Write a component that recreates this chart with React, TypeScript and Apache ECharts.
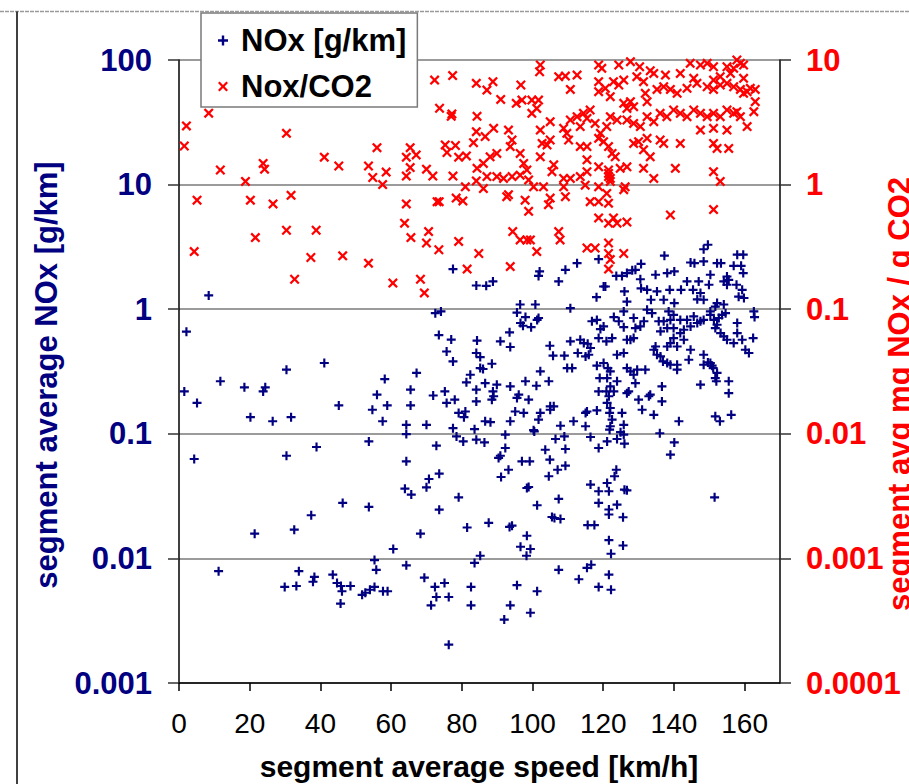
import React, { useEffect, useRef } from "react";
import * as echarts from "echarts";

// x: segment average speed [km/h], y: segment average NOx [g/km]
const noxData: [number, number][] = [
  [8.4, 1.29], [2.1, 0.66], [77.5, 2.1], [84.1, 1.55], [72.5, 0.93], [74.1, 0.96], [73.5, 0.62], [77, 0.57], [84.3, 0.56],
  [1.5, 0.219], [5.1, 0.177], [4.3, 0.0628], [11.7, 0.264], [11.2, 0.0079], [18.5, 0.236], [20.2, 0.136], [23.8, 0.219],
  [24.4, 0.236], [26.5, 0.126], [30.4, 0.327], [31.7, 0.136], [30.4, 0.0667], [21.4, 0.0158], [32.6, 0.017], [37.4, 0.0222],
  [38.9, 0.0784], [41.1, 0.37], [45.2, 0.169], [46.3, 0.0279], [53.7, 0.0869], [53.7, 0.0259], [54.7, 0.156], [56, 0.206],
  [58.2, 0.275], [58.9, 0.169], [57.6, 0.126], [60.6, 0.0119], [64.3, 0.118], [64.3, 0.0995], [64.3, 0.0601], [63.9, 0.0363],
  [65.7, 0.0325], [65.5, 0.226], [65.5, 0.169], [67.2, 0.308], [70, 0.118], [71.9, 0.203], [72.8, 0.0803], [70.7, 0.0434],
  [70, 0.0372], [73.6, 0.0479], [73.6, 0.0246], [68.3, 0.0158], [75.2, 0.219], [75.7, 0.177], [78, 0.188], [75.7, 0.458],
  [77.5, 0.381], [77.5, 0.111], [78.5, 0.0953], [80.4, 0.0869], [79.1, 0.147], [81, 0.151], [80.6, 0.136], [81.3, 0.259],
  [82.4, 0.298], [79.1, 0.0309], [81.5, 0.0177], [83.6, 0.109], [84.1, 0.0897], [84.1, 0.445], [84.1, 0.226], [84.1, 0.182],
  [83.6, 0.0092],
  [33.9, 0.0079], [29.9, 0.0059], [33.2, 0.006], [37.9, 0.0065], [38.3, 0.0071], [43.5, 0.0074], [44.7, 0.00635], [45.8, 0.006],
  [46.1, 0.00545], [48.5, 0.006], [45.7, 0.00434], [51.8, 0.0051], [52.7, 0.0053], [54, 0.0056], [55.3, 0.0059], [57.7, 0.00545],
  [59, 0.00545], [55.3, 0.0097], [55.8, 0.0081], [64.3, 0.0088], [69.4, 0.007], [72.4, 0.0059], [75.1, 0.00635], [72.8, 0.0049],
  [76.3, 0.0049], [71.3, 0.0042], [82.6, 0.0059], [82.6, 0.0042], [76.3, 0.00203],
  [86.9, 1.54], [88.8, 1.67], [102, 2.01], [101.7, 1.85], [107.4, 1.67], [109.3, 2.07], [112.6, 2.34], [118.7, 2.52],
  [120.1, 1.52], [120.6, 1.52], [118.1, 1.25], [123.7, 1.85], [125.3, 1.85], [126.7, 1.95], [128.2, 2.05], [130.7, 2.31],
  [129.1, 2.07], [126, 1.39], [126.7, 1.15], [130.5, 1.74], [130.7, 1.47], [132.4, 1.43], [135.2, 1.39], [134.8, 1.89],
  [138.1, 1.95], [140.1, 2.01], [137.3, 2.69], [133.5, 1.19], [137.1, 1.19], [138.8, 1.43], [140.1, 1.12], [142, 1.43],
  [143.7, 1.67], [147, 1.67], [145.4, 1.43], [147.5, 1.35], [146.6, 1.2], [148.4, 1.19], [149.9, 1.57], [144.7, 2.37],
  [145.8, 2.34], [148.4, 2.42], [149.6, 3.29], [148.4, 3.03], [152.2, 2.34], [153.3, 2.34], [150.3, 1.89], [155, 1.83],
  [157.9, 2.74], [159.6, 2.74], [156.9, 2.23], [159, 2.23], [159.6, 1.95], [157.7, 1.57], [155, 1.57], [159.3, 1.43],
  [159.8, 1.23], [158.3, 1.26], [154.1, 1.67], [155.5, 1.72], [152.2, 1.12], [151.7, 1.05], [154.1, 1.09], [110.7, 1.02],
  [96.5, 1.09], [100.8, 1.09],
  [95.6, 0.94], [98, 0.865], [96.6, 0.775], [97.3, 0.736], [99.6, 0.718], [101.7, 0.85], [101.3, 0.82], [93.5, 0.652],
  [90.9, 0.552], [93.7, 0.497], [86, 0.331], [85.2, 0.413], [85.2, 0.337], [88.5, 0.365], [86.6, 0.255], [89.9, 0.248],
  [88.8, 0.219], [89, 0.2], [88.5, 0.188], [93.7, 0.24], [96.1, 0.206], [95.6, 0.194], [98.9, 0.188], [98, 0.264],
  [101.1, 0.243], [104.6, 0.264], [102.2, 0.317], [104.9, 0.509], [105.8, 0.424], [109, 0.424], [110.7, 0.552], [111.2, 0.337],
  [109.8, 0.337], [113.5, 0.569], [114.5, 0.535], [115.6, 0.528], [112.8, 0.445], [115, 0.418], [115.9, 0.431], [116.4, 0.488],
  [116.8, 0.8], [118.2, 0.82], [119.2, 0.692], [120.1, 0.727], [118.7, 0.586], [120.9, 0.552], [122.5, 0.586], [124.4, 0.8],
  [125.8, 0.718], [123, 0.865], [125.8, 0.96], [118.2, 0.352], [120.1, 0.37], [121.3, 0.337], [122, 0.317], [121.1, 0.28],
  [122, 0.24], [120.9, 0.219], [121.6, 0.2], [121.1, 0.177], [122, 0.161], [121.8, 0.147], [122.5, 0.13], [122, 0.115],
  [121.8, 0.108], [119, 0.28], [118.7, 0.219], [123.9, 0.264], [123, 0.219], [123.9, 0.431], [125.8, 0.445], [126.7, 0.569],
  [127.7, 0.569], [128.6, 0.586], [126.7, 0.337], [127.7, 0.317], [128.6, 0.298], [129.6, 0.327], [129.1, 0.255], [126.7, 0.212],
  [127.2, 0.219], [130, 0.188], [133.3, 0.206], [132.9, 0.2], [131, 0.156], [134.3, 0.142], [136.6, 0.182], [136.6, 0.24],
  [131.9, 0.327], [125.3, 0.147], [125.8, 0.118], [124.9, 0.103], [115, 0.147], [115.4, 0.151], [118.2, 0.154], [111.6, 0.126],
  [115, 0.115], [107.9, 0.116], [105, 0.156], [102.2, 0.147], [101.7, 0.13], [105, 0.166], [106, 0.166], [100.3, 0.107],
  [97.5, 0.147], [95.1, 0.151], [93.7, 0.126], [88.1, 0.124], [86.6, 0.126], [136, 0.101], [141.4, 0.126],
  [128.6, 0.85], [130.5, 0.727], [131.5, 0.8], [129.1, 0.705], [132.4, 0.99], [133.8, 0.93], [135.7, 0.8], [136.2, 0.664],
  [137.1, 0.8], [138.1, 0.705], [139, 0.82], [139.9, 0.705], [139.9, 0.9], [138.5, 0.96], [141.8, 0.82], [143.7, 0.82],
  [144.7, 0.727], [142.8, 0.684], [141.8, 0.643], [139.9, 0.586], [140.9, 0.502], [142.8, 0.569], [138.1, 0.502], [139, 0.535],
  [134.3, 0.473], [135.2, 0.431], [136.2, 0.418], [136.9, 0.381], [138.1, 0.37], [139, 0.358], [140.9, 0.358], [140.9, 0.327],
  [134.8, 0.502], [144.7, 0.473], [144.2, 0.393], [148.4, 0.431], [149.6, 0.374], [150.3, 0.37], [151.1, 0.337], [152.2, 0.308],
  [151.7, 0.28], [152, 0.264], [147.5, 0.248], [155.5, 0.264], [155.5, 0.212], [151.7, 0.138], [153, 0.126], [156.2, 0.142],
  [145.6, 0.875], [146.6, 0.775], [147.5, 0.8], [148.4, 0.82], [150.3, 0.9], [151.3, 0.82], [152.2, 0.75], [151.7, 0.705],
  [152.7, 0.85], [153.6, 0.9], [154.6, 0.93], [153.2, 0.643], [154.1, 0.605], [155, 0.569], [156.9, 0.535], [157.9, 0.643],
  [157.9, 0.775], [159.3, 0.569], [160.2, 0.473], [161.2, 0.445], [162.4, 0.586], [162.6, 0.96], [162.8, 0.865], [150.3, 0.96],
  [148.4, 0.358], [150.8, 0.352],
  [86.4, 0.0853], [92.3, 0.0984], [92.3, 0.0769], [90.9, 0.0667], [90.4, 0.064], [93.2, 0.0515], [91.1, 0.045], [97, 0.0601],
  [99.2, 0.0601], [100.5, 0.1045], [103.6, 0.0745], [104.9, 0.062], [106.5, 0.0908], [109, 0.0953], [109.3, 0.0755],
  [109.3, 0.0555], [107.1, 0.0515], [104.6, 0.0456], [116.4, 0.0942], [118.7, 0.0769], [121.1, 0.0869], [123.9, 0.0908],
  [125.8, 0.0984], [126, 0.0833], [123.7, 0.0515], [123.2, 0.0456], [139, 0.068], [140.1, 0.0853],
  [121.1, 0.0403], [116.4, 0.0391], [118.7, 0.0346], [121.6, 0.0346], [126, 0.0356], [126.7, 0.0352], [98.4, 0.0367],
  [98.9, 0.0374], [101.3, 0.0267], [107.4, 0.03], [105.5, 0.0215], [106.2, 0.0211], [107.9, 0.0207], [87.6, 0.0193],
  [93.5, 0.0179], [94.2, 0.0183], [98.4, 0.0152], [96.6, 0.0124], [99.4, 0.0119], [98.3, 0.0105], [85.2, 0.0105],
  [118.7, 0.0279], [123.9, 0.027], [121.6, 0.0247], [121.6, 0.0225], [125.6, 0.0214], [115.6, 0.0185], [117.5, 0.0185],
  [121.6, 0.014], [125.6, 0.0127], [122.2, 0.0109], [116.6, 0.0089], [115.4, 0.0084], [107.4, 0.0081], [113.1, 0.0068],
  [121.6, 0.0074], [118.7, 0.0059], [122.2, 0.0056], [95.6, 0.0061], [101.3, 0.00545], [93.7, 0.0042], [99.4, 0.00366],
  [92, 0.00323], [151.5, 0.0309],
];

// x: segment average speed [km/h], y: segment avg mg NOx / g CO2 (right axis)
const ratioData: [number, number][] = [
  [2.1, 2.96], [1.5, 2.04], [8.4, 3.74], [11.7, 1.31], [5.1, 0.75], [4.3, 0.29], [18.8, 1.06], [20.2, 0.75], [21.6, 0.376],
  [23.8, 1.48], [24.2, 1.33], [30.4, 2.58], [26.6, 0.7], [31.7, 0.82], [30.4, 0.43], [32.7, 0.174], [38.8, 0.43], [37.3, 0.26],
  [41.1, 1.66], [45.2, 1.41], [46.3, 0.268], [53.6, 1.41], [54.8, 1.14], [56, 1.98], [58.6, 1.26], [57.6, 1.0], [53.6, 0.234],
  [60.5, 0.162], [63.8, 0.49], [65.6, 0.376], [64.3, 0.7], [65.4, 1.98], [64.3, 1.66], [67.1, 1.73], [65.4, 1.37], [64.3, 1.17],
  [70, 1.33], [71.8, 1.17], [70.6, 0.42], [70, 0.34], [73.5, 0.3], [68.3, 0.174], [69.4, 0.135], [72.3, 6.9], [77.4, 7.5],
  [84.1, 6.5], [73.7, 4.1], [77.2, 3.69], [77, 3.53], [84.3, 3.53], [75.3, 2.08], [78.2, 2.06], [75.8, 1.81], [79.1, 1.66],
  [81.3, 1.7], [83.3, 2.17], [84.1, 2.66], [84.3, 1.35], [77.5, 1.17], [84.1, 1.07], [81, 0.96], [78.4, 0.78], [80.3, 0.74],
  [73, 0.73], [73.6, 0.73], [79.1, 0.35], [81.5, 0.21], [84.8, 0.28],
  [102.2, 9.12], [102, 8.05], [118.7, 9.12], [119.6, 8.57], [124.4, 9.12], [127.7, 9.69], [130.3, 8.83], [133.3, 8.2],
  [144.6, 9.4], [147.5, 9.12], [149.4, 9.4], [151.2, 8.83], [157.8, 10], [158.8, 9.4], [159.7, 9.12], [156.9, 8.57],
  [156, 7.8], [155, 8.83],
  [88.8, 6.7], [87.1, 5.74], [96.7, 6.3], [107.4, 7.35], [109.3, 7.43], [112.6, 7.57], [110.7, 5.81], [118.7, 6.7],
  [122.9, 6.7], [125.8, 6.9], [129.5, 7.35], [131.4, 6.7], [134.3, 7.8], [137.6, 7.57], [141.8, 7.8], [145.6, 7.13],
  [151.2, 6.9], [153.1, 7.35], [159.7, 7.13], [161.6, 5.93], [163, 5.81],
  [91, 4.83], [95.4, 4.49], [97, 4.77], [99.8, 4.77], [101.7, 4.77], [101.2, 4.09], [99.8, 3.73], [118.7, 5.57], [120.6, 5.93],
  [122, 5.08], [124.4, 6.3], [125.8, 4.49], [127.7, 4.63], [126.7, 4.09], [128.6, 4.22], [131.9, 5.4], [132.4, 4.63],
  [135.2, 5.81], [137.1, 6.1], [139, 5.81], [140.9, 5.4], [143.7, 5.93], [146.5, 6.5], [149.4, 6.1], [151.2, 5.81],
  [153.1, 6.3], [155, 6.5], [156.9, 6.1], [158.8, 5.81], [160.7, 5.57], [163, 4.63], [162.6, 3.85], [159.7, 5.4],
  [89, 2.83], [86.6, 2.43], [93.2, 2.74], [102.2, 2.74], [105, 3.2], [108.8, 2.83], [110.7, 3.3], [112.6, 3.51], [114.4, 3.73],
  [116.3, 3.97], [113.5, 2.92], [115.4, 3.4], [117.7, 3.1], [119.2, 2.58], [121, 2.92], [122, 3.51], [123.9, 3.3], [126.7, 3.3],
  [128.6, 3.1], [130.5, 2.92], [132.4, 3.51], [134.3, 3.2], [136.1, 3.73], [138, 3.51], [139.9, 3.97], [141.8, 3.73],
  [143.7, 3.51], [145.6, 3.97], [147.5, 3.73], [149.4, 3.51], [151.2, 3.73], [153.1, 3.51], [155, 3.97], [156.9, 3.73],
  [158.8, 3.51], [147.5, 2.74], [151.2, 2.83], [155, 2.74], [160.7, 2.92], [157.8, 3.85],
  [88, 1.67], [89.9, 1.78], [93.7, 2.02], [94.2, 2.28], [96.5, 1.78], [97.5, 1.48], [102.7, 2.14], [104.1, 2.08], [105, 2.28],
  [102.2, 1.67], [109.7, 2.58], [110.2, 2.28], [113.5, 2.02], [115.4, 2.02], [115.4, 1.58], [118.7, 2.35], [120.1, 2.21],
  [121.5, 2.02], [122.5, 1.78], [123.4, 1.67], [128.6, 2.14], [130, 2.21], [132.4, 2.35], [131.4, 1.9], [133.3, 1.67],
  [136.1, 2.28], [137.1, 2.14], [141.8, 2.14], [151.2, 2.14], [152.2, 1.95], [155.5, 1.95], [140.4, 1.35], [151.2, 1.27],
  [86.1, 1.48], [87.1, 1.16], [89.9, 1.16], [91.8, 1.12], [94.2, 1.16], [96.5, 1.19], [98.4, 1.31], [98.9, 1.09], [106, 1.44],
  [105.5, 1.27], [108.8, 1.12], [110.7, 1.12], [113.5, 1.16], [115.4, 1.27], [114.9, 0.99], [118.7, 1.39], [121.5, 1.23],
  [122, 1.12], [124.8, 1.35], [126.7, 1.39], [131.4, 1.35], [134.3, 1.12], [153.1, 1.06], [86.1, 0.93], [100.3, 0.96],
  [103.1, 0.96], [108.8, 0.96], [118.7, 0.96], [125.8, 0.91], [126.2, 0.96], [121.5, 1.31], [121.5, 1.16], [122, 1.06],
  [92.7, 0.8], [93.2, 0.83], [97.9, 0.75], [98.9, 0.61], [105, 0.78], [104.5, 0.69], [109.3, 0.8], [116.3, 0.73], [118.7, 0.73],
  [121.5, 0.71], [121, 0.85], [118.7, 0.54], [121.5, 0.49], [122.9, 0.54], [123.9, 0.49], [126.7, 0.5], [139, 0.57], [151.2, 0.63],
  [94.4, 0.42], [96.5, 0.36], [98.4, 0.36], [99.4, 0.36], [101.2, 0.29], [93.7, 0.22], [107.4, 0.42], [107.8, 0.36],
  [115.4, 0.31], [117.7, 0.31], [121.5, 0.34], [121.5, 0.28], [122, 0.25], [121.5, 0.21], [125.8, 0.28],
];

const xTicks = [0, 20, 40, 60, 80, 100, 120, 140, 160];
const seriesNames = ["NOx [g/km]", "Nox/CO2"];
const titles = {
  x: "segment average speed [km/h]",
  yLeft: "segment average NOx [g/km]",
  yRight: "segment avg mg NOx / g CO2",
};

const FONT = "'Liberation Sans', Arial, Helvetica, sans-serif";
const NAVY = "#000080";
const RED = "#FF0000";
const PLUS = "path://M3.8,0H6.2V3.8H10V6.2H6.2V10H3.8V6.2H0V3.8H3.8Z";
const CROSS = "path://M0,1.6L1.6,0L5,3.4L8.4,0L10,1.6L6.6,5L10,8.4L8.4,10L5,6.6L1.6,10L0,8.4L3.4,5Z";

const logLabel = (v: number) => {
  const e = Math.round(Math.log10(v));
  return e >= 0 ? String(Math.pow(10, e)) : "0." + "0".repeat(-e - 1) + "1";
};

export default function App() {
  const ref = useRef<HTMLDivElement>(null);
  useEffect(() => {
    if (!ref.current) return;
    const chart = echarts.init(ref.current, undefined, { renderer: "svg" });
    const yAxisCommon = {
      type: "log" as const,
      logBase: 10,
      axisLine: { show: true, lineStyle: { color: "#000", width: 1.5 } },
      axisTick: { show: true, inside: false, length: 11, lineStyle: { color: "#333", width: 1.5 } },
      minorTick: { show: false },
    };
    chart.setOption({
      animation: false,
      backgroundColor: "#fff",
      grid: { left: 179, right: 129, top: 60, bottom: 101, containLabel: false },
      legend: {
        orient: "vertical",
        left: 201,
        top: 13,
        padding: [12, 11, 5, 17],
        itemGap: 15,
        itemWidth: 10,
        itemHeight: 10,
        backgroundColor: "#fff",
        borderColor: "#7a7a7a",
        borderWidth: 1.5,
        data: seriesNames,
        textStyle: { fontFamily: FONT, fontSize: 31, fontWeight: "bold", color: "#000", padding: [0, 0, 0, 8] },
      },
      xAxis: {
        type: "value",
        min: 0,
        max: 170,
        interval: 20,
        axisLine: { show: true, onZero: false, lineStyle: { color: "#000", width: 1.5 } },
        axisTick: { show: true, inside: false, length: 8, customValues: xTicks, lineStyle: { color: "#000", width: 1.5 } },
        axisLabel: { customValues: xTicks, margin: 26, fontFamily: FONT, fontSize: 28, color: "#000" },
        splitLine: { show: false },
      },
      yAxis: [
        {
          ...yAxisCommon,
          position: "left",
          min: 0.001,
          max: 100,
          axisLabel: { formatter: logLabel, margin: 27, fontFamily: FONT, fontSize: 31, fontWeight: "bold", color: NAVY },
          splitLine: { show: true, lineStyle: { color: "#7a7a7a", width: 1.5 } },
        },
        {
          ...yAxisCommon,
          position: "right",
          min: 0.0001,
          max: 10,
          axisLabel: { formatter: logLabel, margin: 26, fontFamily: FONT, fontSize: 31, fontWeight: "bold", color: RED },
          splitLine: { show: false },
        },
      ],
      graphic: [
        { type: "line", shape: { x1: 0, y1: 11.5, x2: 909, y2: 11.5 }, style: { stroke: "#9a9a9a", lineWidth: 1.5, lineDash: [4, 1] }, z: 1 },
        { type: "line", shape: { x1: 17, y1: 11.5, x2: 17, y2: 784 }, style: { stroke: "#000", lineWidth: 1.5 }, z: 1 },
        {
          type: "text", x: 479, y: 766,
          style: { text: titles.x, font: `bold 30px ${FONT}`, fill: "#000", align: "center", verticalAlign: "middle" },
        },
        {
          type: "text", x: 46, y: 375, rotation: Math.PI / 2,
          style: { text: titles.yLeft, font: `bold 31px ${FONT}`, fill: NAVY, align: "center", verticalAlign: "middle" },
        },
        {
          type: "text", x: 899, y: 394, rotation: Math.PI / 2,
          style: { text: titles.yRight, font: `bold 31px ${FONT}`, fill: RED, align: "center", verticalAlign: "middle" },
        },
      ],
      series: [
        {
          name: seriesNames[0],
          type: "scatter",
          yAxisIndex: 0,
          symbol: PLUS,
          symbolSize: 9,
          clip: false,
          itemStyle: { color: NAVY, opacity: 1 },
          data: noxData,
          z: 3,
        },
        {
          name: seriesNames[1],
          type: "scatter",
          yAxisIndex: 1,
          symbol: CROSS,
          symbolSize: 10,
          clip: false,
          itemStyle: { color: RED, opacity: 1 },
          data: ratioData,
          z: 4,
        },
      ],
    });
    return () => chart.dispose();
  }, []);
  return <div ref={ref} style={{ position: "absolute", left: 0, top: 0, width: 909, height: 784 }} />;
}
